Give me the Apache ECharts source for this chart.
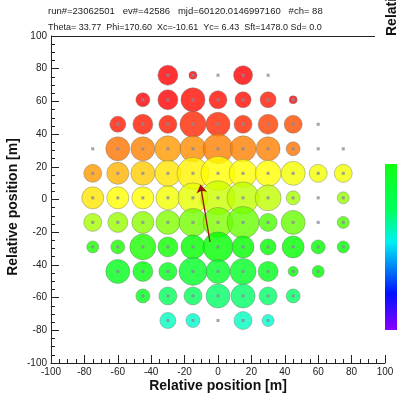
<!DOCTYPE html>
<html><head><meta charset="utf-8">
<script src="https://cdn.jsdelivr.net/npm/echarts@6/dist/echarts.min.js"></script>
<style>html,body{margin:0;padding:0;background:#fff}#c{width:397px;height:395px}</style>
</head><body><div id="c"></div>
<script>
// Header texts
const headerLine1 = 'run#=23062501   ev#=42586   mjd=60120.0146997160   #ch= 88';
const headerLine2 = 'Theta= 33.77  Phi=170.60  Xc=-10.61  Yc= 6.43  Sft=1478.0 Sd= 0.0';
const axisTitle = 'Relative position [m]';
const colorbarTitle = 'Relative time';

// Hit detectors: x [m], y [m], relative time (colour scale 0-100), charge (bubble radius)
const hitX = [
  -30,-15,15,
  -45,-30,-15,0,15,30,45,
  -60,-45,-30,-15,0,15,30,45,
  -60,-45,-30,-15,0,15,30,45,
  -75,-60,-45,-30,-15,0,15,30,45,60,75,
  -75,-60,-45,-30,-15,0,15,30,45,75,
  -75,-60,-45,-30,-15,0,15,30,45,75,
  -75,-60,-45,-30,-15,0,15,30,45,60,75,
  -60,-45,-30,-15,0,15,30,45,60,
  -45,-30,-15,0,15,30,45,
  -30,-15,15,30];
const hitY = [
  76,76,76,
  61,61,61,61,61,61,61,
  46,46,46,46,46,46,46,46,
  31,31,31,31,31,31,31,31,
  16,16,16,16,16,16,16,16,16,16,16,
  1,1,1,1,1,1,1,1,1,1,
  -14,-14,-14,-14,-14,-14,-14,-14,-14,-14,
  -29,-29,-29,-29,-29,-29,-29,-29,-29,-29,-29,
  -44,-44,-44,-44,-44,-44,-44,-44,-44,
  -59,-59,-59,-59,-59,-59,-59,
  -74,-74,-74,-74];
const hitTime = [
  100,100,100,
  100,100,99,99,99,98,100,
  98,98,98,97,97,97,95,94,
  91,90,88,89,90,90,90,91,
  88,86,84,82,81,80,80,80,79,79,79,
  82,80,80,79,78,76,75,75,73,72,
  73,72,71,70,69,70,68,66,68,66,
  62,62,62,61,60,60,60,60,60,60,60,
  58,59,58,57,57,57,58,60,60,
  58,53,53,52,52,52,52,
  45,44,45,44];
const hitCharge = [
  10,4,9.5,
  7,10,12,9,8,8,4,
  8,10,9,13,12,9,10,9,
  12,12,13,13,15,13,12,7,
  9,11,12,13,16,17,14,13,12,9,9,
  11,11,11,12,15,17,16,13,7,6,
  9,10,11,12,14,15,16,9,12,6,
  6,7,13,10,12,15,11,8,11,7,6,
  12,10,9,14,12,13,10,5,6,
  7,9,9,12,12,9,7,
  8,7,9,6];
// Detectors without a hit
const emptyX = [0,30,60,-75,60,75,60,60,0];
const emptyY = [76,76,46,31,31,31,1,-14,-74];
// Arrow (shower direction): tail -> core
const arrowFrom = [-4.8,-26];
const arrowTo = [-10.5,9];

const xTicks = [-100,-80,-60,-40,-20,0,20,40,60,80,100];

const hits = hitX.map((x,i)=>[x,hitY[i],hitTime[i],hitCharge[i]]);
const dets = hitX.map((x,i)=>[x,hitY[i]]).concat(emptyX.map((x,i)=>[x,emptyY[i]]));

const FONT = "'Liberation Sans', Arial, Helvetica, sans-serif";
const chart = echarts.init(document.getElementById('c'), null, {renderer:'canvas'});
const axisCommon = {
  type:'value', min:xTicks[0], max:xTicks[xTicks.length-1], interval:20,
  axisLine:{show:true, onZero:false, lineStyle:{color:'#222', width:1}},
  axisTick:{show:true, inside:true, length:8, lineStyle:{color:'#222'}},
  minorTick:{show:true, splitNumber:4, length:4, lineStyle:{color:'#222'}},
  splitLine:{show:false},
  axisLabel:{fontSize:10, color:'#222', fontFamily:FONT, margin:4}
};
chart.setOption({
  animation:false,
  backgroundColor:'#fff',
  grid:{left:51, right:12, top:36, bottom:32},
  xAxis:Object.assign({}, axisCommon),
  yAxis:Object.assign({}, axisCommon),
  visualMap:{type:'continuous', show:false, dimension:2, min:0, max:100, seriesIndex:0,
    inRange:{color:['#8000ff','#0000ff','#00ffff','#00ff00','#ffff00','#ff0000']}},
  series:[
    {type:'scatter', data:hits, symbolSize:(v)=>v[3]*2,
     itemStyle:{opacity:0.8, borderColor:'rgba(110,110,110,0.5)', borderWidth:1}, z:2},
    {type:'scatter', data:dets, symbolSize:3, symbol:'rect',
     itemStyle:{color:'#8a8a9e'}, z:3},
    {type:'lines', coordinateSystem:'cartesian2d', z:4,
     symbol:['none','arrow'], symbolSize:8,
     lineStyle:{color:'#a01010', width:1.3, opacity:1},
     data:[{coords:[arrowFrom, arrowTo]}]}
  ],
  graphic:[
    {type:'text', left:48, top:6, style:{text:headerLine1, font:'9.5px '+FONT, fill:'#222'}},
    {type:'text', left:48, top:23, style:{text:headerLine2, font:'9px '+FONT, fill:'#222'}},
    {type:'line', shape:{x1:51, y1:36.5, x2:375, y2:36.5}, style:{stroke:'#222', lineWidth:1}},
    {type:'text', x:218, y:386, style:{text:axisTitle, font:'bold 14px '+FONT, fill:'#111', textAlign:'center', textVerticalAlign:'middle'}},
    {type:'text', x:13, y:207, rotation:Math.PI/2, style:{text:axisTitle, font:'bold 14px '+FONT, fill:'#111', textAlign:'center', textVerticalAlign:'middle'}},
    {type:'text', x:392, y:36, rotation:Math.PI/2, style:{text:colorbarTitle, font:'bold 14px '+FONT, fill:'#111', textAlign:'left', textVerticalAlign:'middle'}},
    {type:'rect', shape:{x:385, y:164, width:12, height:166},
     style:{fill:new echarts.graphic.LinearGradient(0,0,0,1,[
       {offset:0, color:'#10ff10'},{offset:0.28, color:'#00ff60'},{offset:0.47, color:'#00f0f0'},
       {offset:0.78, color:'#0010ff'},{offset:1, color:'#8a00ff'}])}}
  ]
});
</script></body></html>
